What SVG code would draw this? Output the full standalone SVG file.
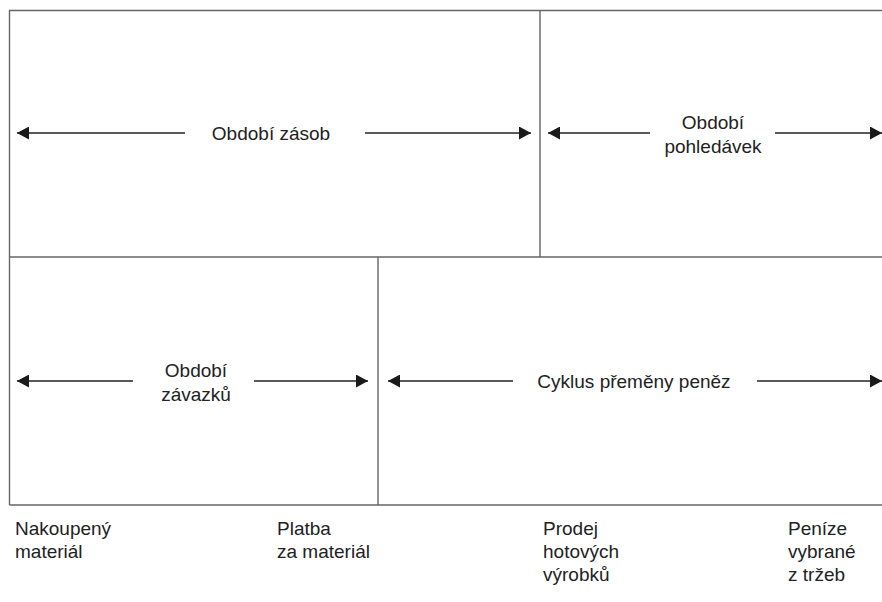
<svg xmlns="http://www.w3.org/2000/svg" width="882" height="602" viewBox="0 0 882 602">
<defs>
<style>
.frame{stroke:#666;stroke-width:1.4;fill:none}
.arr{stroke:#222;stroke-width:1.3;fill:none}
.lbl{font-family:"Liberation Sans",Arial,sans-serif;font-size:19px;fill:#222}
.c{text-anchor:middle}
</style>
<marker id="ah" viewBox="0 0 12 13" refX="12" refY="6.5" markerWidth="12" markerHeight="13" markerUnits="userSpaceOnUse" orient="auto-start-reverse">
<path d="M0,0 L12,6.5 L0,13 Z" fill="#1a1a1a"/>
</marker>
</defs>
<rect width="882" height="602" fill="#fff"/>
<g id="frame">
<path class="frame" d="M9.5,505 V10.5 H882 M9.5,257 H882 M9.5,505 H882 M540,10.5 V257 M378,257 V505"/>
</g>
<g id="connectors">
<path class="arr" d="M185,133 H17" marker-end="url(#ah)"/>
<path class="arr" d="M365,133 H531" marker-end="url(#ah)"/>
<path class="arr" d="M650,133 H548" marker-end="url(#ah)"/>
<path class="arr" d="M775,133 H882" marker-end="url(#ah)"/>
<path class="arr" d="M133,381 H17" marker-end="url(#ah)"/>
<path class="arr" d="M254,381 H368" marker-end="url(#ah)"/>
<path class="arr" d="M513,381 H388" marker-end="url(#ah)"/>
<path class="arr" d="M757,381 H882" marker-end="url(#ah)"/>
</g>
<g id="obdobi-zasob"><text class="lbl c" x="271" y="140">Období zásob</text></g>
<g id="obdobi-pohledavek"><text class="lbl c" x="713" y="129">Období</text><text class="lbl c" x="713" y="153">pohledávek</text></g>
<g id="obdobi-zavazku"><text class="lbl c" x="196" y="377">Období</text><text class="lbl c" x="196" y="401">závazků</text></g>
<g id="cyklus"><text class="lbl c" x="634" y="388">Cyklus přeměny peněz</text></g>
<g id="nakoupeny"><text class="lbl" x="15" y="535">Nakoupený</text><text class="lbl" x="15" y="558">materiál</text></g>
<g id="platba"><text class="lbl" x="277" y="535">Platba</text><text class="lbl" x="277" y="558">za materiál</text></g>
<g id="prodej"><text class="lbl" x="543" y="535">Prodej</text><text class="lbl" x="543" y="558">hotových</text><text class="lbl" x="543" y="581">výrobků</text></g>
<g id="penize"><text class="lbl" x="788" y="535">Peníze</text><text class="lbl" x="788" y="558">vybrané</text><text class="lbl" x="788" y="581">z tržeb</text></g>
</svg>
